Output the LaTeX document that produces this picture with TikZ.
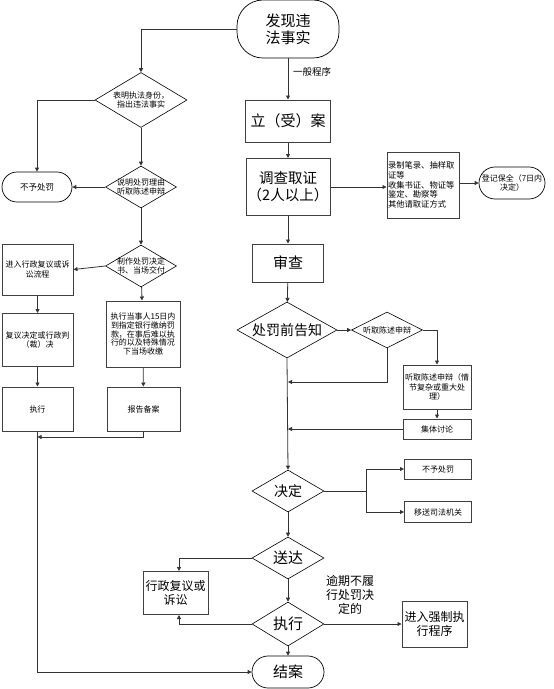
\documentclass[tikz,border=0pt]{standalone}
\usepackage{fontspec}
\setmainfont{Noto Sans CJK SC}
\usetikzlibrary{shapes.geometric,arrows.meta}
\begin{document}
\begin{tikzpicture}[x=1pt,y=-1pt,
  every node/.style={inner sep=0pt},
  sz/.style 2 args={minimum width=#1pt, minimum height=#2pt},
  box/.style={draw=black!75, line width=1pt, rectangle, align=center},
  term/.style={draw=black, line width=0.7pt, rectangle, align=center},
  dia/.style={draw=black, line width=0.6pt, diamond},
  big/.style={font=\fontsize{15}{17}\selectfont},
  mid/.style={font=\fontsize{12}{14}\selectfont},
  sml/.style={font=\fontsize{8}{9.5}\selectfont},
  arr/.style={-{Triangle[length=4pt,width=4pt]}, line width=0.8pt, draw=black!80},
  ln/.style={line width=0.8pt, draw=black!80}]
\useasboundingbox (0,0) rectangle (554,689);

% main column
\node[term, big, sz={102}{58}, rounded corners=26pt] (n1) at (288,29) {发现违\\法事实};
\node[font=\fontsize{9.5}{11}\selectfont] (lbl1) at (312,72) {一般程序};
\node[box, big, sz={85}{42}] (n2) at (288,121) {立（受）案};
\node[box, font=\fontsize{14.5}{17}\selectfont, sz={84}{57}] (n3) at (288,187) {调查取证\\（2人以上）};
\node[box, font=\fontsize{8.3}{9.7}\selectfont, align=left, text width=70pt, sz={72}{66}, inner sep=1pt] (n4) at (423,185) {录制笔录、抽样取\\证等\\收集书证、物证等\\鉴定、勘察等\\其他请取证方式};
\node[term, sml, sz={66}{32}, rounded corners=16pt] (n5) at (512,183) {登记保全（7日内\\决定）};
\node[box, big, sz={71}{38}] (n6) at (288,263) {审查};
\node[dia, sz={100}{56}] (d1) at (287,330) {};
\node[font=\fontsize{14}{16}\selectfont] (d1t) at (d1) {处罚前告知};
\node[dia, sz={71}{36}] (d2) at (387,330) {};
\node[sml] (d2t) at (d2) {听取陈述申辩};
\node[box, sml, sz={68}{44}] (n7) at (437,387) {听取陈述申辩（情\\节复杂或重大处\\理）};
\node[box, sml, sz={68}{20}] (n8) at (437,429) {集体讨论};
\node[dia, sz={72}{42}] (d3) at (288,491) {};
\node[font=\fontsize{14}{16}\selectfont] (d3t) at (d3) {决定};
\node[box, sml, sz={67}{20}] (n9) at (438,469) {不予处罚};
\node[box, sml, sz={67}{21}] (n10) at (438,512) {移送司法机关};
\node[dia, sz={72}{42}] (d4) at (288,558) {};
\node[big] (d4t) at (d4) {送达};
\node[box, mid, sz={65}{43}] (n11) at (175.5,593) {行政复议或\\诉讼};
\node[dia, sz={72}{44}] (d5) at (288,624) {};
\node[big] (d5t) at (d5) {执行};
\node[box, mid, sz={65}{46}] (n12) at (434.5,624) {进入强制执\\行程序};
\node[mid, align=center] (lbl2) at (350,595) {逾期不履\\行处罚决\\定的};
\node[term, big, sz={72}{32}, rounded corners=16pt] (n13) at (288,672) {结案};

% left column
\node[dia, sz={92}{55}] (d6) at (141,100) {};
\node[sml, align=center] (d6t) at (d6) {表明执法身份，\\指出违法事实};
\node[term, font=\fontsize{8.5}{10}\selectfont, sz={70}{30}, rounded corners=15pt] (t1) at (37,187) {不予处罚};
\node[dia, sz={71}{42}] (d7) at (141,187) {};
\node[sml, align=center] (d7t) at (d7) {说明处罚理由\\听取陈述申辩};
\node[dia, sz={71}{42}] (d8) at (141,266) {};
\node[sml, align=center] (d8t) at (d8) {制作处罚决定\\书、当场交付};
\node[box, sml, sz={71}{51}] (n14) at (37.5,269.5) {进入行政复议或诉\\讼流程};
\node[box, sml, sz={71}{53}] (n15) at (37.5,340) {复议决定或行政判\\（裁）决};
\node[box, sml, sz={71}{44}] (n16) at (37.5,409) {执行};
\node[box, font=\fontsize{8}{8.7}\selectfont, sz={74}{66}] (n17) at (143,334) {执行当事人15日内\\到指定银行缴纳罚\\款，在事后难以执\\行的以及特殊情况\\下当场收缴};
\node[box, sml, sz={73}{44}] (n18) at (143.5,409) {报告备案};

% junctions
\coordinate (j1) at (288,382);
\coordinate (j2) at (288,429);
\coordinate (b1) at (366,491);
\coordinate (j3) at (37.5,437);

% connectors main
\draw[arr] (n1.south) -- (n2.north);
\draw[arr] (n2) -- (n3);
\draw[arr] (n3.east) -- (n3.east -| n4.west);
\draw[arr] (n4.east |- n5.west) -- (n5.west);
\draw[arr] (n3) -- (n6);
\draw[arr] (n6) -- (d1);
\draw[arr] (d1.east) -- (d2.west);
\draw[arr] (d2.south) |- (j1);
\draw[arr] (d2.east) -| (n7.north);
\draw[arr] (n7) -- (n8);
\draw[arr] (n8.west) -- (j2);
\draw[arr] (d1.south) -- (d3.north);
\draw[ln] (d3.east) -- (b1);
\draw[arr] (b1) |- (n9.west);
\draw[arr] (b1) |- (n10.west);
\draw[arr] (d3) -- (d4);
\draw[arr] (d4.west) -| ([xshift=3.5pt]n11.north);
\draw[arr] (d4) -- (d5);
\draw[arr] (d5.west) -| ([xshift=3.5pt]n11.south);
\draw[arr] (d5.east) -- (n12.west);
\draw[arr] (d5) -- (n13);

% connectors left
\draw[arr] (n1.west) -| (d6.north);
\draw[arr] (d6.west) -| (t1.north);
\draw[arr] (d6) -- (d7);
\draw[arr] (d7.west) -- (t1.east);
\draw[arr] (d7) -- (d8);
\draw[arr] (d8.west) -- (n14.east);
\draw[arr] (n14) -- (n15);
\draw[arr] (n15) -- (n16);
\draw[arr] (d8) -- (n17);
\draw[arr] (n17) -- (n18);
\draw[arr] (n18.south) |- (j3);
\draw[arr] (n16.south) |- (n13.west);
\end{tikzpicture}
\end{document}
